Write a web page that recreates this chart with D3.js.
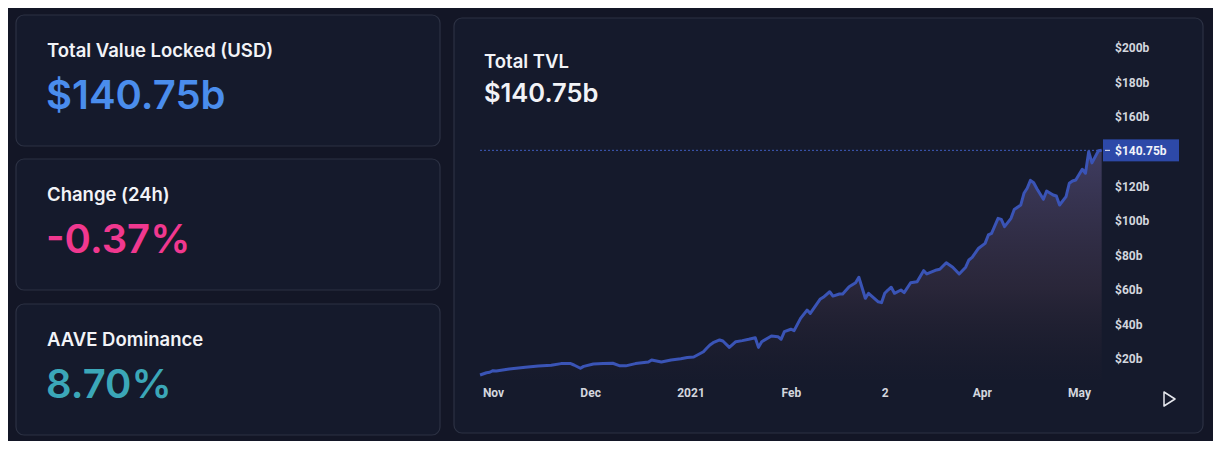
<!DOCTYPE html>
<html>
<head>
<title>Total TVL</title>
<script src="https://d3js.org/d3.v7.min.js"></script>
<style>
  body { margin: 0; background: #ffffff; }
  svg { display: block; }
</style>
</head>
<body>
<script type="text/javascript">
var width = 1223,
    height = 451;

// stat cards
var cardTitles = ["Total Value Locked (USD)", "Change (24h)", "AAVE Dominance"];
var cardValues = ["$140.75b", "-0.37%", "8.70%"];
var cardColors = ["#4a8ded", "#f0388f", "#3ba7b8"];

// TVL series, in billions of USD
var dates = [
  "2020-10-28","2020-10-30","2020-10-31","2020-11-01","2020-11-02","2020-11-06","2020-11-11","2020-11-15",
  "2020-11-19","2020-11-22","2020-11-25","2020-11-26","2020-11-28","2020-11-29","2020-12-02","2020-12-05",
  "2020-12-08","2020-12-10","2020-12-12","2020-12-15","2020-12-19","2020-12-20","2020-12-23","2020-12-26",
  "2020-12-29","2020-12-31","2021-01-02","2021-01-05","2021-01-06","2021-01-07","2021-01-08","2021-01-10",
  "2021-01-11","2021-01-13","2021-01-15","2021-01-17","2021-01-19","2021-01-21","2021-01-22","2021-01-23",
  "2021-01-26","2021-01-28","2021-01-29","2021-01-30","2021-02-01","2021-02-02","2021-02-04","2021-02-06",
  "2021-02-07","2021-02-10","2021-02-11","2021-02-13","2021-02-14","2021-02-16","2021-02-17","2021-02-19",
  "2021-02-21","2021-02-22","2021-02-24","2021-02-25","2021-02-28","2021-03-01","2021-03-02","2021-03-03",
  "2021-03-04","2021-03-05","2021-03-07","2021-03-08","2021-03-10","2021-03-12","2021-03-14","2021-03-15",
  "2021-03-18","2021-03-19","2021-03-21","2021-03-23","2021-03-25","2021-03-27","2021-03-28","2021-03-29",
  "2021-03-31","2021-04-02","2021-04-03","2021-04-04","2021-04-06","2021-04-07","2021-04-08","2021-04-10",
  "2021-04-11","2021-04-13","2021-04-14","2021-04-15","2021-04-16","2021-04-17","2021-04-18","2021-04-20",
  "2021-04-21","2021-04-23","2021-04-24","2021-04-25","2021-04-27","2021-04-28","2021-04-29","2021-04-30",
  "2021-05-02","2021-05-03","2021-05-04","2021-05-05","2021-05-07","2021-05-08"
];
var tvl = [
  10.7, 12.0, 12.3, 13.2, 13.0, 14.2, 15.2, 15.9,
  16.3, 17.3, 17.3, 16.5, 14.6, 15.7, 17.1, 17.3,
  17.5, 16.1, 16.0, 17.3, 18.2, 19.4, 18.2, 19.4,
  20.1, 20.8, 21.1, 24.2, 26.2, 28.1, 29.4, 31.0,
  30.4, 26.7, 30.0, 30.6, 31.4, 32.3, 26.7, 30.0,
  33.3, 32.9, 31.4, 35.8, 37.2, 36.4, 43.5, 48.3,
  46.4, 54.5, 55.7, 58.9, 56.4, 57.6, 57.6, 61.8,
  64.1, 67.3, 55.1, 58.0, 53.1, 52.6, 58.0, 59.9,
  61.5, 58.0, 59.9, 58.4, 64.1, 64.7, 71.1, 69.2,
  71.5, 71.9, 75.7, 73.1, 69.2, 73.1, 77.3, 78.8,
  84.1, 86.9, 91.8, 92.7, 101.4, 100.8, 96.6, 101.4,
  106.5, 109.1, 115.9, 118.8, 123.4, 122.0, 118.5, 112.4,
  117.2, 114.9, 114.3, 109.1, 114.0, 121.7, 123.0, 123.6,
  129.8, 127.5, 140.0, 133.5, 140.5, 140.75
];
var lastValue = 140.75;

// axes
var xTickDates = ["2020-11-01", "2020-12-01", "2021-01-01", "2021-02-01", "2021-03-02", "2021-04-01", "2021-05-01"];
var xTickLabels = ["Nov", "Dec", "2021", "Feb", "2", "Apr", "May"];
var yTicks = [20, 40, 60, 80, 100, 120, 160, 180, 200];

var parse = d3.timeParse("%Y-%m-%d");
var data = dates.map(function(d, i) { return {date: parse(d), value: tvl[i]}; });

var svg = d3.select("body").append("svg")
    .attr("width", width)
    .attr("height", height);

var defs = svg.append("defs");
var grad = defs.append("linearGradient")
    .attr("id", "areaFill")
    .attr("gradientUnits", "userSpaceOnUse")
    .attr("x1", 0).attr("y1", 150).attr("x2", 0).attr("y2", 380);
grad.append("stop").attr("offset", "0%").attr("stop-color", "#4d4872").attr("stop-opacity", 0.75);
grad.append("stop").attr("offset", "60%").attr("stop-color", "#3a3044").attr("stop-opacity", 0.55);
grad.append("stop").attr("offset", "100%").attr("stop-color", "#2a2230").attr("stop-opacity", 0.05);

// dark page panel
svg.append("rect")
    .attr("x", 8).attr("y", 8)
    .attr("width", 1205).attr("height", 433)
    .attr("fill", "#131626");

// left cards
var cardTop = [15, 159, 304];
var cards = svg.append("g").selectAll("g")
    .data(cardTitles)
    .enter().append("g")
    .attr("transform", function(d, i) { return "translate(16," + cardTop[i] + ")"; });
cards.append("rect")
    .attr("width", 424).attr("height", 131)
    .attr("rx", 8)
    .attr("fill", "#151a2c")
    .attr("stroke", "#2c3143")
    .attr("stroke-width", 1.2);
cards.append("text")
    .attr("x", 31).attr("y", 42)
    .attr("fill", "#f2f3f7")
    .style("font-family", "Inter, 'Noto Sans', sans-serif")
    .style("font-size", "18.5px")
    .style("font-weight", 600)
    .text(function(d) { return d; });
cards.append("text")
    .attr("x", 30).attr("y", 94)
    .attr("fill", function(d, i) { return cardColors[i]; })
    .style("font-family", "Inter, 'Noto Sans', sans-serif")
    .style("font-size", "40px")
    .style("font-weight", 600)
    .text(function(d, i) { return cardValues[i]; });

// chart card
svg.append("rect")
    .attr("x", 454).attr("y", 18)
    .attr("width", 749).attr("height", 415)
    .attr("rx", 8)
    .attr("fill", "#151a2c")
    .attr("stroke", "#2c3143")
    .attr("stroke-width", 1.2);

svg.append("text")
    .attr("x", 484).attr("y", 68)
    .attr("fill", "#f2f3f7")
    .style("font-family", "Inter, 'Noto Sans', sans-serif")
    .style("font-size", "18.5px")
    .style("font-weight", 600)
    .text("Total TVL");
svg.append("text")
    .attr("x", 484).attr("y", 102)
    .attr("fill", "#f2f3f7")
    .style("font-family", "Inter, 'Noto Sans', sans-serif")
    .style("font-size", "25.5px")
    .style("font-weight", 600)
    .text("$140.75b");

// scales
var x = d3.scaleTime()
    .domain([parse("2020-11-01"), parse("2021-05-01")])
    .range([493, 1079]);
var y = d3.scaleLinear()
    .domain([0, 200])
    .range([393.5, 48]);
var plotBottom = 380;

var area = d3.area()
    .x(function(d) { return x(d.date); })
    .y0(plotBottom)
    .y1(function(d) { return y(d.value); });
var line = d3.line()
    .x(function(d) { return x(d.date); })
    .y(function(d) { return y(d.value); });

svg.append("path")
    .datum(data)
    .attr("d", area)
    .attr("fill", "url(#areaFill)");

// last value guide
var lastX = x(data[data.length - 1].date);
svg.append("line")
    .attr("x1", 480).attr("x2", lastX)
    .attr("y1", y(lastValue)).attr("y2", y(lastValue))
    .attr("stroke", "#3f5bbd")
    .attr("stroke-width", 1)
    .attr("stroke-dasharray", "2,2");

svg.append("path")
    .datum(data)
    .attr("d", line)
    .attr("fill", "none")
    .attr("stroke", "#3a54b6")
    .attr("stroke-width", 3)
    .attr("stroke-linejoin", "round");

// y axis
var yAxis = svg.append("g")
    .attr("transform", "translate(1111,0)")
    .call(d3.axisRight(y)
        .tickValues(yTicks)
        .tickSize(0)
        .tickPadding(4)
        .tickFormat(function(d) { return "$" + d + "b"; }));
yAxis.select(".domain").remove();
yAxis.selectAll("text")
    .attr("fill", "#d3d6de")
    .style("font-family", "Roboto, 'Liberation Sans', sans-serif")
    .style("font-size", "12px")
    .style("font-weight", 700);

// last value label
var lab = svg.append("g").attr("transform", "translate(1103," + y(lastValue) + ")");
lab.append("rect")
    .attr("x", 0).attr("y", -11)
    .attr("width", 76).attr("height", 22)
    .attr("fill", "#2d49a8");
lab.append("line")
    .attr("x1", 2).attr("x2", 7)
    .attr("stroke", "#e8ebf3")
    .attr("stroke-width", 1);
lab.append("text")
    .attr("x", 12).attr("dy", "0.35em")
    .attr("fill", "#f2f4fa")
    .style("font-family", "Roboto, 'Liberation Sans', sans-serif")
    .style("font-size", "12px")
    .style("font-weight", 700)
    .text("$" + lastValue + "b");

// x axis
var xAxis = svg.append("g")
    .attr("transform", "translate(0,385)")
    .call(d3.axisBottom(x)
        .tickValues(xTickDates.map(parse))
        .tickSize(0)
        .tickPadding(3)
        .tickFormat(function(d, i) { return xTickLabels[i]; }));
xAxis.select(".domain").remove();
xAxis.selectAll("text")
    .attr("fill", "#d3d6de")
    .style("font-family", "Roboto, 'Liberation Sans', sans-serif")
    .style("font-size", "12px")
    .style("font-weight", 700);

// play button
svg.append("path")
    .attr("d", "M1164,392 L1175,399 L1164,406 Z")
    .attr("fill", "none")
    .attr("stroke", "#e6e8ee")
    .attr("stroke-width", 1.5)
    .attr("stroke-linejoin", "round");
</script>
</body>
</html>
